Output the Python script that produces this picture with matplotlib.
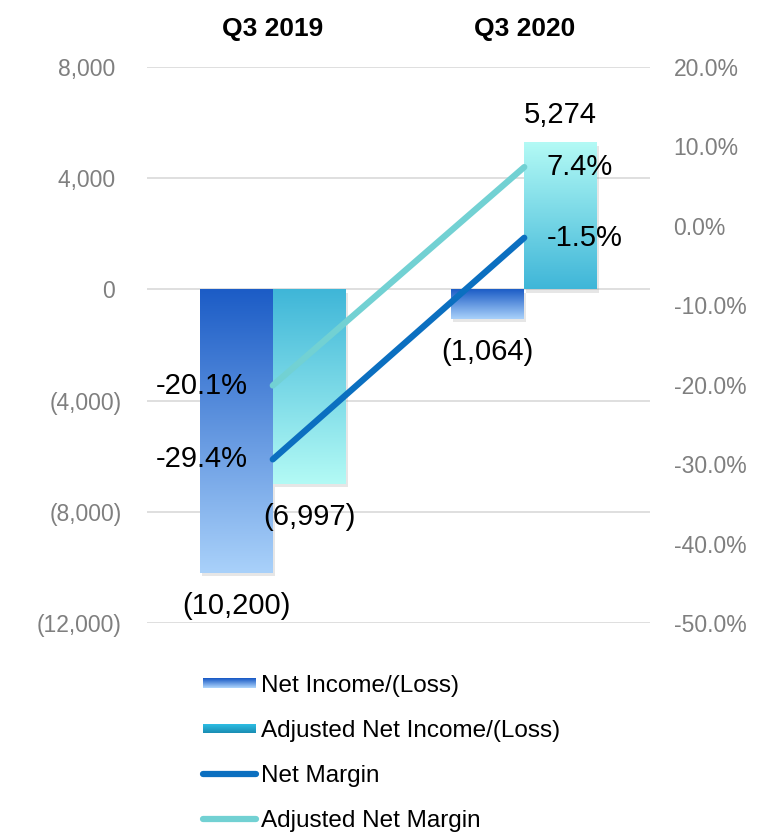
import numpy as np
import matplotlib
matplotlib.use("Agg")
import matplotlib.pyplot as plt
import matplotlib.patheffects as pe
from matplotlib.colors import LinearSegmentedColormap
from matplotlib.patches import Rectangle
from matplotlib.lines import Line2D
from matplotlib.legend_handler import HandlerBase

plt.rcParams['font.family'] = ['Liberation Sans', 'DejaVu Sans']

quarters = ["Q3 2019", "Q3 2020"]
net_income = [-10200, -1064]
adj_net_income = [-6997, 5274]
net_margin = [-29.4, -1.5]
adj_net_margin = [-20.1, 7.4]

left_ticks = [-12000, -8000, -4000, 0, 4000, 8000]
right_ticks = [-50, -40, -30, -20, -10, 0, 10, 20]

# colours: (at zero, at far end)
ni_cols = ("#1c5cc6", "#a9d1fa")
adj_cols = ("#3fb6d8", "#b3faf5")
nm_col = "#0b6fc0"
anm_col = "#72d1d3"
grey = "#7f7f7f"


def fmt_acct(v):
    if v < 0:
        return "({:,})".format(-v)
    return "{:,} ".format(v)


fig = plt.figure(figsize=(7.64, 8.35), dpi=100)
ax = fig.add_axes([147 / 764, 1 - 623 / 835, 503 / 764, 556 / 835])
ax2 = ax.twinx()

x = np.arange(len(quarters))
w = 0.29


def grad_bars(xs, vals, cols):
    cmap = LinearSegmentedColormap.from_list("g", list(cols))
    bars = ax.bar(xs, vals, w, color="white", zorder=2,
                  path_effects=[pe.SimplePatchShadow(offset=(1.5, -2.5), alpha=0.18, shadow_rgbFace="#777777"),
                                pe.Normal()])
    for b, v in zip(bars, vals):
        x0 = b.get_x()
        g = np.linspace(0, 1, 256).reshape(-1, 1)
        ax.imshow(g, cmap=cmap, aspect="auto", origin="lower",
                  extent=(x0, x0 + w, 0, v), zorder=3, interpolation="bicubic")
    return bars


grad_bars(x - w / 2, net_income, ni_cols)
grad_bars(x + w / 2, adj_net_income, adj_cols)

ax.set_xlim(-0.5, 1.5)
ax.set_ylim(-12000, 8000)
ax.set_yticks(left_ticks)
ax.set_yticklabels([fmt_acct(v) for v in left_ticks])
ax.yaxis.grid(True, color="#d9d9d9", lw=1.2, zorder=0)
ax.set_axisbelow(True)
ax.tick_params(axis="y", length=0, pad=18, labelsize=16.5, labelcolor=grey)

ax.xaxis.tick_top()
ax.set_xticks(x)
ax.set_xticklabels(quarters, fontweight="bold", fontsize=19)
ax.tick_params(axis="x", length=0, pad=19)

for s in ax.spines.values():
    s.set_visible(False)
for s in ax2.spines.values():
    s.set_visible(False)

# value labels for bars
for xs, vals in ((x - w / 2, net_income), (x + w / 2, adj_net_income)):
    for xi, v in zip(xs, vals):
        ax.annotate(fmt_acct(v).strip(), (xi, v), xytext=(0, -14 if v < 0 else 10),
                    textcoords="offset points", ha="center",
                    va="top" if v < 0 else "bottom", fontsize=21, zorder=6)

# margins on right axis
ax2.plot(x, net_margin, color=nm_col, lw=4.5, solid_capstyle="round", zorder=5)
ax2.plot(x, adj_net_margin, color=anm_col, lw=4.5, solid_capstyle="round", zorder=5)
ax2.set_ylim(-50, 20)
ax2.set_yticks(right_ticks)
ax2.set_yticklabels(["{:.1f}%".format(v) for v in right_ticks])
ax2.tick_params(axis="y", length=0, pad=17, labelsize=16.5, labelcolor=grey)

for series in (net_margin, adj_net_margin):
    ax2.annotate("{:.1f}%".format(series[0]), (x[0], series[0]), xytext=(-18, 0),
                 textcoords="offset points", ha="right", va="center", fontsize=21)
    ax2.annotate("{:.1f}%".format(series[1]), (x[1], series[1]), xytext=(16, 0),
                 textcoords="offset points", ha="left", va="center", fontsize=21)


class GradHandler(HandlerBase):
    def __init__(self, cols):
        super().__init__()
        self.cols = cols

    def create_artists(self, legend, orig, xd, yd, width, height, fontsize, trans):
        cmap = LinearSegmentedColormap.from_list("g", list(self.cols))
        n = 10
        h = height * 0.55
        y0 = yd + (height - h) / 2
        arts = []
        for i in range(n):
            r = Rectangle((xd, y0 + h - (i + 1) * h / n), width, h / n + 0.3,
                          facecolor=cmap(i / (n - 1)), edgecolor="none", transform=trans)
            arts.append(r)
        return arts


h_ni = Rectangle((0, 0), 1, 1)
h_adj = Rectangle((0, 0), 1, 1, label="b")
h_nm = Line2D([], [], color=nm_col, lw=4.5, solid_capstyle="round")
h_anm = Line2D([], [], color=anm_col, lw=4.5, solid_capstyle="round")

fig.legend([h_ni, h_adj, h_nm, h_anm],
           ["Net Income/(Loss)", "Adjusted Net Income/(Loss)", "Net Margin", "Adjusted Net Margin"],
           handler_map={h_ni: GradHandler(ni_cols), h_adj: GradHandler(("#2ec0e6", "#1a8fb5"))},
           loc="upper left", bbox_to_anchor=(203 / 764, 1 - 675 / 835), frameon=False,
           fontsize=17.5, handlelength=2.2, handletextpad=0.2, labelspacing=0.95,
           borderaxespad=0, borderpad=0)

fig.savefig("out.png", dpi=100)
